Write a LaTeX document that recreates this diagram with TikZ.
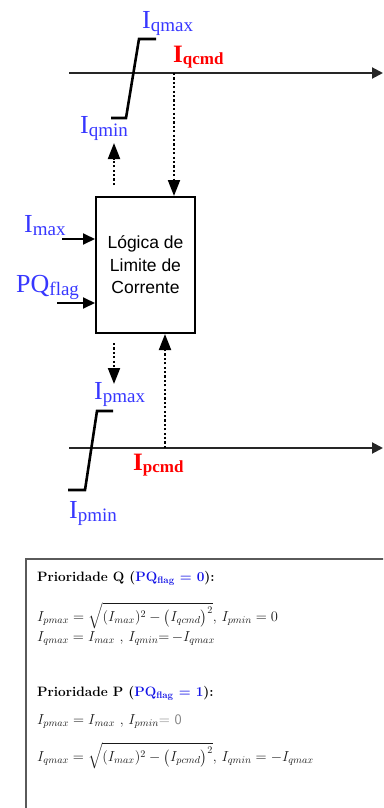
\RequirePackage{fix-cm}
\documentclass[tikz,border=0pt]{standalone}
\usepackage{fontspec}
\usepackage{amsmath}
\usetikzlibrary{arrows.meta}
\newfontfamily\labfont{Liberation Serif}
\newfontfamily\boxfont{Liberation Sans}
\definecolor{lblblue}{RGB}{55,55,255}
\definecolor{lblred}{RGB}{255,0,0}
\definecolor{hdrblue}{RGB}{20,20,230}
\definecolor{eqgray}{RGB}{25,25,25}
\definecolor{framegray}{RGB}{90,90,90}
\newcommand{\curlbl}[2]{{\labfont\fontsize{26}{26}\selectfont #1\raisebox{-3pt}{\fontsize{19}{19}\selectfont #2}}}
\newcommand{\curlblb}[2]{{\labfont\bfseries\fontsize{25}{25}\selectfont #1\raisebox{-2pt}{\fontsize{17}{17}\selectfont #2}}}
\tikzset{
  axisline/.style={line width=2pt, draw=black!85, -{Triangle[length=11pt,width=11pt]}},
  limline/.style={line width=2.6pt, line join=miter},
  dotarrow/.style={line width=2pt, dash pattern=on 2.2pt off 2.2pt, -{Triangle[length=16pt,width=12pt,sep=0pt]}},
  inarrow/.style={line width=2pt, -{Triangle[length=12pt,width=11pt]}},
  lbl/.style={anchor=base west, inner sep=0pt, text=lblblue},
  lblr/.style={anchor=base west, inner sep=0pt, text=lblred},
  eqtxt/.style={anchor=base west, inner sep=0pt, text=eqgray, font=\fontsize{14.5}{16}\selectfont},
  hdr/.style={anchor=base west, inner sep=0pt, font=\fontsize{13.6}{16}\selectfont\bfseries},
}
\begin{document}
\begin{tikzpicture}[x=1pt,y=-1pt]
\useasboundingbox (0,0) rectangle (383,808);
\clip (0,0) rectangle (383,808);
% axes
\coordinate (qa0) at (69,73); \coordinate (qa1) at (383,73);
\coordinate (pa0) at (69,448); \coordinate (pa1) at (383,448);
\draw[axisline] (qa0) -- (qa1);
\draw[axisline] (pa0) -- (pa1);
% limiters
\draw[limline] (111,118) -- (126,118) -- (139,39) -- (156,39);
\draw[limline] (68,490) -- (85,490) -- (97,411) -- (113,411);
% labels
\node[lbl] (lqmax) at (142,29) {\curlbl{I}{qmax}};
\node[lblr] (lqcmd) at (173,63) {\curlblb{I}{qcmd}};
\node[lbl] (lqmin) at (80,133) {\curlbl{I}{qmin}};
\node[lbl] (limax) at (24,232) {\curlbl{I}{max}};
\node[lbl] (lpq) at (16,292) {\curlbl{PQ}{flag}};
\node[lbl] (lpmax) at (94,399) {\curlbl{I}{pmax}};
\node[lblr] (lpcmd) at (133,470) {\curlblb{I}{pcmd}};
\node[lbl] (lpmin) at (69,518) {\curlbl{I}{pmin}};
% logic block
\node[draw, line width=2pt, minimum width=99pt, minimum height=136pt, inner sep=0pt, align=center,
      font=\boxfont\fontsize{17.5}{22.5}\selectfont] (logic) at (145.5,265) {Lógica de\\Limite de\\Corrente};
% inputs
\coordinate (imaxs) at (62,239);
\coordinate (pqs) at (57,303);
\draw[inarrow] (imaxs) -- (imaxs -| logic.west);
\draw[inarrow] (pqs) -- (pqs -| logic.west);
% dotted connectors
\coordinate (qcmdpt) at (174,73);
\draw[dotarrow] (qcmdpt) -- (qcmdpt |- logic.north);
\coordinate (qlimA) at (114,185); \coordinate (qlimB) at (114,143);
\draw[dotarrow] (qlimA) -- (qlimB);
\coordinate (plimA) at (114,343); \coordinate (plimB) at (114,384);
\draw[dotarrow] (plimA) -- (plimB);
\coordinate (pcmdpt) at (165,448);
\draw[dotarrow] (pcmdpt) -- (pcmdpt |- logic.south);
% lower frame
\draw[line width=1.5pt, draw=framegray] (26,812) -- (26,559) -- (392,559);
\node[hdr] (hq) at (37,581.7) {Prioridade Q (\textcolor{hdrblue}{PQ\textsubscript{flag} = 0}):};
\node[eqtxt] (q1) at (37,621.7) {$I_{pmax}=\sqrt{(I_{max})^2-\bigl(I_{qcmd}\bigr)^2}$, $I_{pmin}=0$};
\node[eqtxt] (q2) at (37,641.7) {$I_{qmax}=I_{max}$ , $I_{qmin}${=}\,$-I_{qmax}$};
\node[hdr] (hp) at (37,696.7) {Prioridade P (\textcolor{hdrblue}{PQ\textsubscript{flag} = 1}):};
\node[eqtxt] (p1) at (37,724) {$I_{pmax}=I_{max}$ , $I_{pmin}$\textcolor{gray}{\sffamily= 0}};
\node[eqtxt] (p2) at (37,761.7) {$I_{qmax}=\sqrt{(I_{max})^2-\bigl(I_{pcmd}\bigr)^2}$, $I_{qmin}=-I_{qmax}$};
\end{tikzpicture}
\end{document}
